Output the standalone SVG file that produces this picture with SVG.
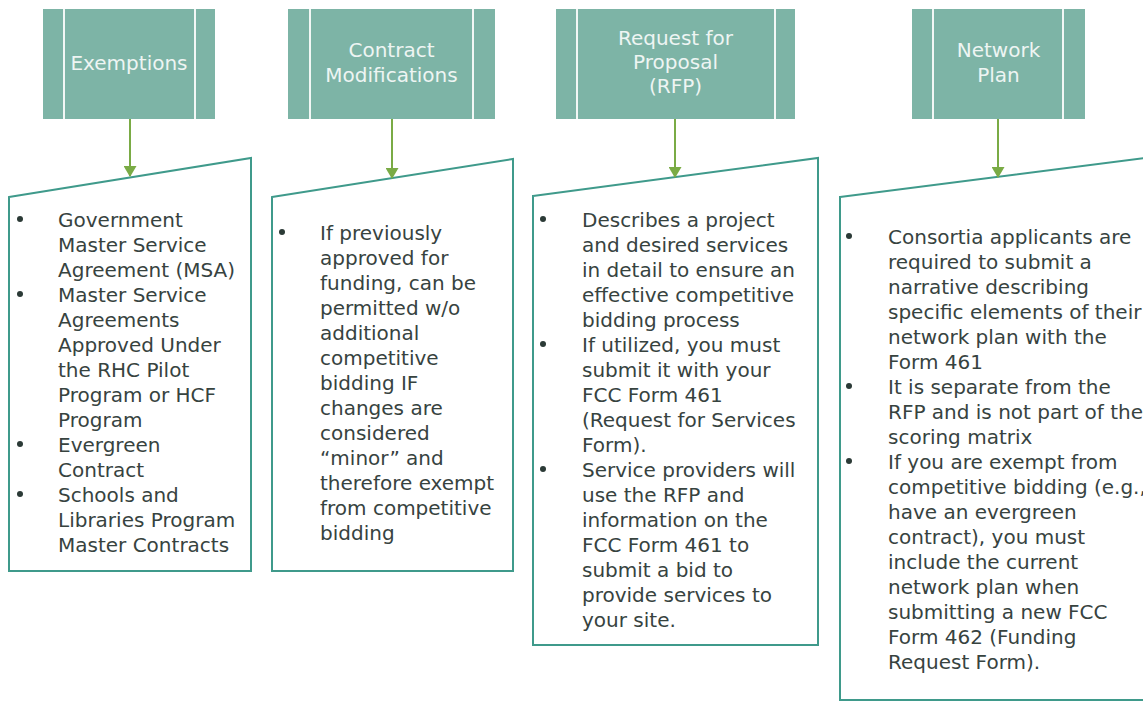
<svg xmlns="http://www.w3.org/2000/svg" width="1143" height="702" viewBox="0 0 1143 702">
<defs>
<style>
.hdr{fill:#7db4a6}
.div{stroke:#f2f7f5;stroke-width:2}
.ht{font-family:"DejaVu Sans",sans-serif;font-size:20px;fill:#eef5f3;text-anchor:middle}
.box{fill:#ffffff;stroke:#3f9a8b;stroke-width:2}
.bt{font-family:"DejaVu Sans",sans-serif;font-size:20px;fill:#37433f}
.bul{fill:#2b3a36}
.con{stroke:#7aab45;stroke-width:2;fill:none}
</style>
<marker id="ah" viewBox="0 0 11 13" refX="10" refY="6.5" markerWidth="11" markerHeight="13" markerUnits="userSpaceOnUse" orient="auto">
<path d="M0,0 L11,6.5 L0,13 Z" fill="#7aab45"/>
</marker>
</defs>
<rect width="1143" height="702" fill="#ffffff"/>

<g id="node-exemptions">
<rect class="hdr" x="43" y="9" width="172" height="110"/>
<line class="div" x1="64" y1="9" x2="64" y2="119"/>
<line class="div" x1="195" y1="9" x2="195" y2="119"/>
<text class="ht" x="129" y="70">Exemptions</text>
</g>

<g id="node-contract-mod">
<rect class="hdr" x="288" y="9" width="207" height="110"/>
<line class="div" x1="310" y1="9" x2="310" y2="119"/>
<line class="div" x1="473" y1="9" x2="473" y2="119"/>
<text class="ht" x="391.5" y="57">Contract</text>
<text class="ht" x="391.5" y="82">Modifications</text>
</g>

<g id="node-rfp">
<rect class="hdr" x="556" y="9" width="239" height="110"/>
<line class="div" x1="577" y1="9" x2="577" y2="119"/>
<line class="div" x1="775" y1="9" x2="775" y2="119"/>
<text class="ht" x="675.5" y="45">Request for</text>
<text class="ht" x="675.5" y="69">Proposal</text>
<text class="ht" x="675.5" y="93">(RFP)</text>
</g>

<g id="node-network-plan">
<rect class="hdr" x="912" y="9" width="173" height="110"/>
<line class="div" x1="933" y1="9" x2="933" y2="119"/>
<line class="div" x1="1063" y1="9" x2="1063" y2="119"/>
<text class="ht" x="998.5" y="57">Network</text>
<text class="ht" x="998.5" y="82">Plan</text>
</g>

<g id="node-exemptions-detail">
<path class="box" d="M9,197 L251,158 L251,571 L9,571 Z"/>
<circle class="bul" cx="20" cy="219" r="3"/>
<circle class="bul" cx="20" cy="294" r="3"/>
<circle class="bul" cx="20" cy="444" r="3"/>
<circle class="bul" cx="20" cy="494" r="3"/>
<text class="bt" x="58" y="227">Government</text>
<text class="bt" x="58" y="252">Master Service</text>
<text class="bt" x="58" y="277">Agreement (MSA)</text>
<text class="bt" x="58" y="302">Master Service</text>
<text class="bt" x="58" y="327">Agreements</text>
<text class="bt" x="58" y="352">Approved Under</text>
<text class="bt" x="58" y="377">the RHC Pilot</text>
<text class="bt" x="58" y="402">Program or HCF</text>
<text class="bt" x="58" y="427">Program</text>
<text class="bt" x="58" y="452">Evergreen</text>
<text class="bt" x="58" y="477">Contract</text>
<text class="bt" x="58" y="502">Schools and</text>
<text class="bt" x="58" y="527">Libraries Program</text>
<text class="bt" x="58" y="552">Master Contracts</text>
</g>

<g id="node-contract-mod-detail">
<path class="box" d="M272,197 L513,159 L513,571 L272,571 Z"/>
<circle class="bul" cx="282" cy="232" r="3"/>
<text class="bt" x="320" y="240">If previously</text>
<text class="bt" x="320" y="265">approved for</text>
<text class="bt" x="320" y="290">funding, can be</text>
<text class="bt" x="320" y="315">permitted w/o</text>
<text class="bt" x="320" y="340">additional</text>
<text class="bt" x="320" y="365">competitive</text>
<text class="bt" x="320" y="390">bidding IF</text>
<text class="bt" x="320" y="415">changes are</text>
<text class="bt" x="320" y="440">considered</text>
<text class="bt" x="320" y="465">“minor” and</text>
<text class="bt" x="320" y="490">therefore exempt</text>
<text class="bt" x="320" y="515">from competitive</text>
<text class="bt" x="320" y="540">bidding</text>
</g>

<g id="node-rfp-detail">
<path class="box" d="M533,196 L818,158 L818,645 L533,645 Z"/>
<circle class="bul" cx="543" cy="219" r="3"/>
<circle class="bul" cx="543" cy="344" r="3"/>
<circle class="bul" cx="543" cy="469" r="3"/>
<text class="bt" x="582" y="227">Describes a project</text>
<text class="bt" x="582" y="252">and desired services</text>
<text class="bt" x="582" y="277">in detail to ensure an</text>
<text class="bt" x="582" y="302">effective competitive</text>
<text class="bt" x="582" y="327">bidding process</text>
<text class="bt" x="582" y="352">If utilized, you must</text>
<text class="bt" x="582" y="377">submit it with your</text>
<text class="bt" x="582" y="402">FCC Form 461</text>
<text class="bt" x="582" y="427">(Request for Services</text>
<text class="bt" x="582" y="452">Form).</text>
<text class="bt" x="582" y="477">Service providers will</text>
<text class="bt" x="582" y="502">use the RFP and</text>
<text class="bt" x="582" y="527">information on the</text>
<text class="bt" x="582" y="552">FCC Form 461 to</text>
<text class="bt" x="582" y="577">submit a bid to</text>
<text class="bt" x="582" y="602">provide services to</text>
<text class="bt" x="582" y="627">your site.</text>
</g>

<g id="node-network-plan-detail">
<path class="box" d="M840,197 L1145,158 L1145,700 L840,700 Z"/>
<circle class="bul" cx="849" cy="236" r="3"/>
<circle class="bul" cx="849" cy="386" r="3"/>
<circle class="bul" cx="849" cy="461" r="3"/>
<text class="bt" x="888" y="244">Consortia applicants are</text>
<text class="bt" x="888" y="269">required to submit a</text>
<text class="bt" x="888" y="294">narrative describing</text>
<text class="bt" x="888" y="319">specific elements of their</text>
<text class="bt" x="888" y="344">network plan with the</text>
<text class="bt" x="888" y="369">Form 461</text>
<text class="bt" x="888" y="394">It is separate from the</text>
<text class="bt" x="888" y="419">RFP and is not part of the</text>
<text class="bt" x="888" y="444">scoring matrix</text>
<text class="bt" x="888" y="469">If you are exempt from</text>
<text class="bt" x="888" y="494">competitive bidding (e.g.,</text>
<text class="bt" x="888" y="519">have an evergreen</text>
<text class="bt" x="888" y="544">contract), you must</text>
<text class="bt" x="888" y="569">include the current</text>
<text class="bt" x="888" y="594">network plan when</text>
<text class="bt" x="888" y="619">submitting a new FCC</text>
<text class="bt" x="888" y="644">Form 462 (Funding</text>
<text class="bt" x="888" y="669">Request Form).</text>
</g>

<g id="connectors">
<line class="con" x1="130" y1="119" x2="130" y2="176" marker-end="url(#ah)"/>
<line class="con" x1="392" y1="119" x2="392" y2="178" marker-end="url(#ah)"/>
<line class="con" x1="675" y1="119" x2="675" y2="177" marker-end="url(#ah)"/>
<line class="con" x1="998" y1="119" x2="998" y2="177" marker-end="url(#ah)"/>
</g>
</svg>
